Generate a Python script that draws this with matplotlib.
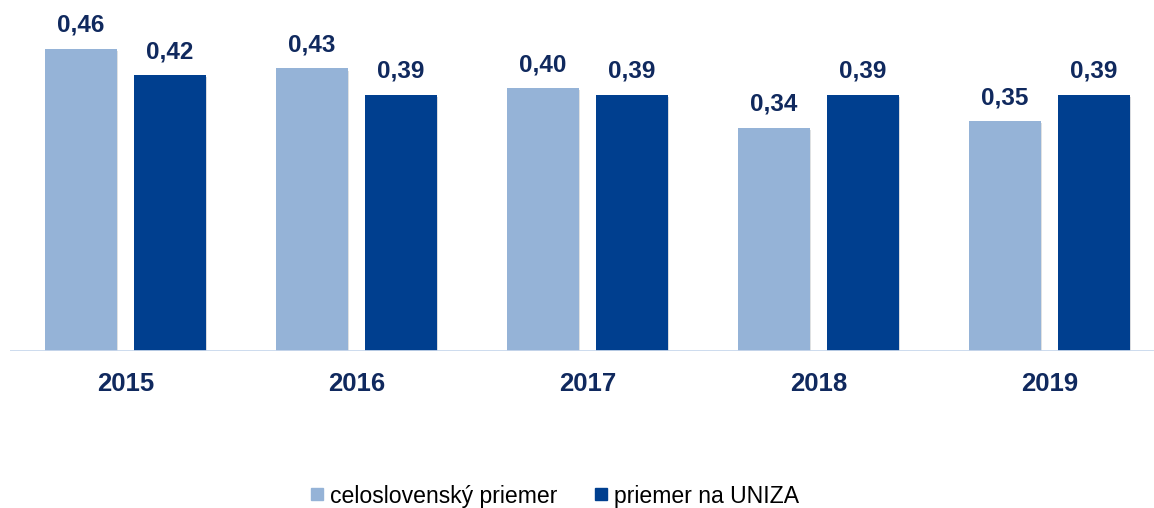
import matplotlib
matplotlib.use('Agg')
import matplotlib.pyplot as plt
import matplotlib.patheffects as pe
from matplotlib.lines import Line2D
import numpy as np

plt.rcParams['font.family'] = ['Liberation Sans', 'DejaVu Sans']

years = ['2015', '2016', '2017', '2018', '2019']
celoslovensky = [0.46, 0.43, 0.40, 0.34, 0.35]
uniza = [0.42, 0.39, 0.39, 0.39, 0.39]
labels = ['celoslovenský priemer', 'priemer na UNIZA']

light = '#95B3D7'
dark = '#003F8F'
navy = '#10295E'

fig = plt.figure(figsize=(11.54, 5.08), dpi=100)
ax = fig.add_axes([10 / 1154, 157 / 508, 1144 / 1154, 351 / 508])

x = np.arange(len(years))
w = 0.312
off = 0.037 + w / 2
shadow = [pe.SimplePatchShadow(offset=(0.8, -1.5), alpha=0.15), pe.Normal()]

b1 = ax.bar(x - off, celoslovensky, w, color=light, path_effects=shadow, zorder=3)
b2 = ax.bar(x + off, uniza, w, color=dark, path_effects=shadow, zorder=3)

for bars, vals in [(b1, celoslovensky), (b2, uniza)]:
    for b, v in zip(bars, vals):
        ax.annotate(f'{v:.2f}'.replace('.', ','), (b.get_x() + b.get_width() / 2, v),
                    xytext=(0, 8.5), textcoords='offset points', ha='center', va='bottom',
                    fontsize=17.5, fontweight='bold', color=navy)

ax.set_xlim(-0.5, 4.5 - 11 / 231)
ax.set_ylim(0, 351 / 657)
ax.axhline(0, color='#C9D8EC', lw=2, zorder=4)

ax.set_xticks(x)
ax.set_xticklabels(years, fontsize=18.5, fontweight='bold', color=navy)
ax.tick_params(axis='x', length=0, pad=15)
ax.set_yticks([])
for s in ax.spines.values():
    s.set_visible(False)

handles = [Line2D([], [], marker='s', linestyle='none', markersize=8, color=c) for c in (light, dark)]
fig.legend(handles, labels, loc='center', bbox_to_anchor=(555 / 1154, 12 / 508), ncol=2,
           frameon=False, fontsize=16.6, handlelength=0.55, handletextpad=0.3,
           columnspacing=1.6, borderpad=0)

fig.savefig('out.png', dpi=100)
